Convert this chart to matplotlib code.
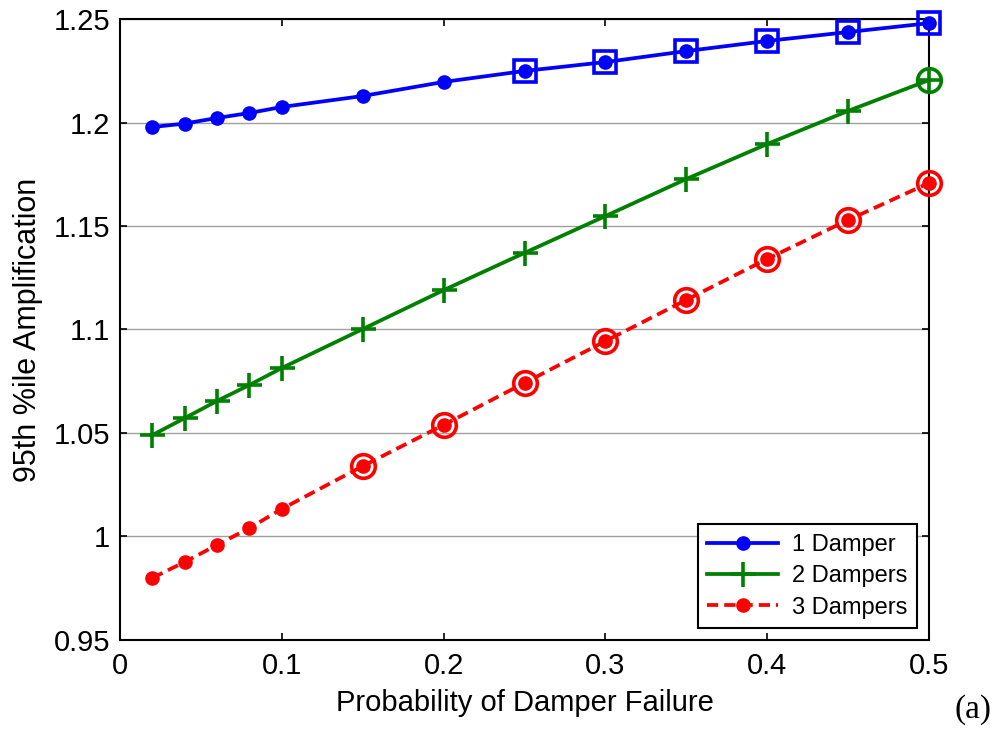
import matplotlib
matplotlib.use('Agg')
import matplotlib.pyplot as plt

# probability of damper failure
p_fail = [0.02, 0.04, 0.06, 0.08, 0.10, 0.15, 0.20, 0.25, 0.30, 0.35, 0.40, 0.45, 0.50]

# 95th percentile amplification
amp_1 = [1.1978, 1.1995, 1.2022, 1.2046, 1.2075, 1.2128, 1.2196,
         1.2249, 1.2292, 1.2345, 1.2394, 1.2437, 1.2480]
amp_2 = [1.0490, 1.0572, 1.0655, 1.0732, 1.0814, 1.1002, 1.1190,
         1.1370, 1.1548, 1.1727, 1.1896, 1.2056, 1.2205]
amp_3 = [0.9800, 0.9877, 0.9959, 1.0041, 1.0133, 1.0340, 1.0539,
         1.0742, 1.0944, 1.1143, 1.1341, 1.1529, 1.1708]

labels = ['1 Damper', '2 Dampers', '3 Dampers']

# points that get an extra outline marker
box_from_1 = 7     # squares from p = 0.25
ring_from_2 = 12   # circle at p = 0.5
ring_from_3 = 5    # circles from p = 0.15

plt.rcParams['font.family'] = ['Liberation Sans', 'DejaVu Sans']

fig = plt.figure(figsize=(9.97, 7.34), dpi=100)
ax = fig.add_axes([0.1204, 0.1281, 0.8114, 0.8460])

blue, green, red = '#0000ff', '#008000', '#ff0000'
lw = 2.7

ax.plot(p_fail, amp_1, '-', color=blue, lw=lw, marker='o', ms=9.5, label=labels[0],
        clip_on=False, zorder=3)
ax.plot(p_fail, amp_2, '-', color=green, lw=lw, marker='+', ms=18, mew=2.6, label=labels[1],
        clip_on=False, zorder=3)
ax.plot(p_fail, amp_3, '--', color=red, lw=lw, marker='o', ms=9.5, label=labels[2],
        dashes=(3.0, 1.6), clip_on=False, zorder=3)

ax.plot(p_fail[box_from_1:], amp_1[box_from_1:], 's', ms=15.5, mfc='none', mec=blue, mew=2.6,
        clip_on=False, zorder=4)
ax.plot(p_fail[ring_from_2:], amp_2[ring_from_2:], 'o', ms=17, mfc='none', mec=green, mew=2.6,
        clip_on=False, zorder=4)
ax.plot(p_fail[ring_from_3:], amp_3[ring_from_3:], 'o', ms=17, mfc='none', mec=red, mew=2.6,
        clip_on=False, zorder=4)

ax.set_xlim(0, 0.5)
ax.set_ylim(0.95, 1.25)
ax.set_xticks([0, 0.1, 0.2, 0.3, 0.4, 0.5])
ax.set_xticklabels(['0', '0.1', '0.2', '0.3', '0.4', '0.5'])
ax.set_yticks([0.95, 1.0, 1.05, 1.1, 1.15, 1.2, 1.25])
ax.set_yticklabels(['0.95', '1', '1.05', '1.1', '1.15', '1.2', '1.25'])
ax.yaxis.grid(True, color='#a0a0a0', lw=1.0)
ax.set_axisbelow(True)
ax.tick_params(direction='in', top=True, right=True, length=5, width=1.2,
               labelsize=21, pad=7)
ax.tick_params(axis='x', pad=9)
for s in ax.spines.values():
    s.set_linewidth(1.5)

ax.set_xlabel('Probability of Damper Failure', fontsize=21, labelpad=6)
ax.set_ylabel('95th %ile Amplification', fontsize=22, labelpad=8)

leg = ax.legend(loc='lower right', fontsize=17, numpoints=1, fancybox=False,
                framealpha=1, edgecolor='black', handlelength=3.0,
                borderaxespad=0.5, labelspacing=0.4, handletextpad=0.6)
leg.get_frame().set_linewidth(1.5)
leg.set_zorder(10)

fig.text(0.994, 0.012, '(a)', fontsize=24, family='Liberation Serif', ha='right', va='bottom')

fig.savefig('out.png', dpi=100)
